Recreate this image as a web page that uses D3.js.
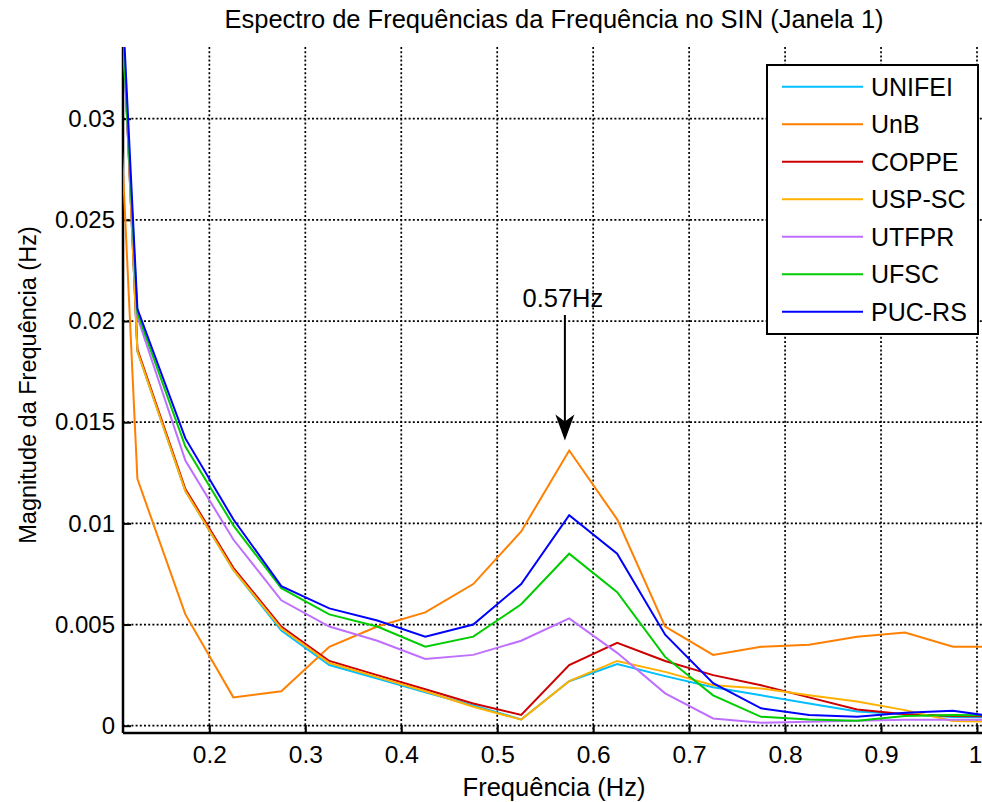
<!DOCTYPE html>
<html>
<head>
<meta charset="utf-8">
<script src="https://cdn.jsdelivr.net/npm/d3@7"></script>
<style>
  html, body { margin: 0; padding: 0; background: #fff; }
  svg { display: block; font-family: "Liberation Sans", Arial, Helvetica, sans-serif; }
</style>
</head>
<body>
<svg id="chart" width="982" height="802"></svg>
<script>
// Frequency bins (Hz)
const freqs = [0.075, 0.125, 0.175, 0.225, 0.275, 0.325, 0.375, 0.425, 0.475, 0.525,
               0.575, 0.625, 0.675, 0.725, 0.775, 0.825, 0.875, 0.925, 0.975, 1.025];

// Spectrum magnitude per measurement site
const unifei = [0.0720, 0.0185, 0.0116, 0.0077, 0.0047, 0.0030, 0.00233, 0.00165, 0.00100, 0.00031,
                0.0022, 0.00305, 0.00245, 0.0019, 0.0015, 0.0011, 0.0007, 0.00056, 0.00043, 0.0004];
const unb    = [0.0629, 0.0122, 0.0055, 0.0014, 0.0017, 0.0039, 0.0049, 0.0056, 0.0070, 0.0096,
                0.0136, 0.0102, 0.0049, 0.0035, 0.0039, 0.0040, 0.0044, 0.0046, 0.0039, 0.0039];
const coppe  = [0.0720, 0.0186, 0.0117, 0.0078, 0.0049, 0.0032, 0.0025, 0.0018, 0.0011, 0.00053,
                0.0030, 0.0041, 0.0032, 0.0025, 0.0020, 0.0014, 0.0008, 0.00056, 0.00048, 0.00045];
const uspsc  = [0.0725, 0.0185, 0.0116, 0.0077, 0.0048, 0.0031, 0.0024, 0.0017, 0.00094, 0.0003,
                0.0022, 0.0032, 0.00266, 0.0020, 0.00184, 0.0015, 0.0012, 0.00077, 0.00023, 0.0002];
const utfpr  = [0.0655, 0.0202, 0.0131, 0.0092, 0.0062, 0.0049, 0.0042, 0.0033, 0.0035, 0.0042,
                0.0053, 0.0036, 0.0016, 0.00036, 0.00015, 0.0002, 0.00025, 0.0003, 0.0003, 0.0003];
const ufsc   = [0.0660, 0.0204, 0.0138, 0.0099, 0.0068, 0.0055, 0.0049, 0.0039, 0.0044, 0.0060,
                0.0085, 0.0066, 0.0034, 0.0015, 0.00044, 0.00031, 0.00025, 0.00048, 0.00053, 0.0005];
const pucrs  = [0.0692, 0.0206, 0.0142, 0.0102, 0.0069, 0.0058, 0.0052, 0.0044, 0.0050, 0.0070,
                0.0104, 0.0085, 0.0045, 0.0021, 0.00086, 0.00053, 0.00044, 0.00064, 0.00074, 0.0004];

const seriesNames  = ["UNIFEI", "UnB", "COPPE", "USP-SC", "UTFPR", "UFSC", "PUC-RS"];
const seriesValues = [unifei, unb, coppe, uspsc, utfpr, ufsc, pucrs];
const seriesColors = ["#00BFFF", "#FF8000", "#CC0000", "#FFB000", "#BF6FFF", "#00CC00", "#0000FF"];

const xTicks = [0.2, 0.3, 0.4, 0.5, 0.6, 0.7, 0.8, 0.9, 1.0];
const xTickLabels = ["0.2", "0.3", "0.4", "0.5", "0.6", "0.7", "0.8", "0.9", "1"];
const yTicks = [0, 0.005, 0.01, 0.015, 0.02, 0.025, 0.03];
const yTickLabels = ["0", "0.005", "0.01", "0.015", "0.02", "0.025", "0.03"];

const peakFreq = 0.57;
const peakLabel = "0.57Hz";

const titleText = "Espectro de Frequências da Frequência no SIN (Janela 1)";
const xLabelText = "Frequência (Hz)";
const yLabelText = "Magnitude da Frequência (Hz)";

// Plot frame
const plot = { left: 123, right: 990, top: 47, bottom: 733 };

const svg = d3.select("#chart");

const x = d3.scaleLinear().domain([0.11, 1.0]).range([123, 977]);
const y = d3.scaleLinear().domain([0, 0.03]).range([725.7, 118.7]);

svg.append("defs").append("clipPath").attr("id", "plotclip")
  .append("rect")
  .attr("x", plot.left).attr("y", plot.top)
  .attr("width", plot.right - plot.left).attr("height", plot.bottom - plot.top);

// Dotted grid
const grid = svg.append("g").attr("stroke", "#000").attr("stroke-width", 1.7)
  .attr("stroke-dasharray", "2,2.2").attr("fill", "none");
xTicks.forEach(t => {
  grid.append("line").attr("x1", x(t)).attr("x2", x(t))
    .attr("y1", plot.top).attr("y2", plot.bottom);
});
yTicks.forEach(t => {
  grid.append("line").attr("x1", plot.left).attr("x2", plot.right)
    .attr("y1", y(t)).attr("y2", y(t));
});

// Axes with inward ticks
const xAxis = d3.axisBottom(x).tickValues(xTicks)
  .tickFormat((d, i) => xTickLabels[i]).tickSizeInner(-8).tickSizeOuter(0).tickPadding(13);
const gx = svg.append("g").attr("transform", `translate(0,${plot.bottom})`).call(xAxis);
gx.select(".domain").remove();
gx.selectAll(".tick line").attr("stroke", "#000").attr("stroke-width", 2);
gx.selectAll(".tick text").attr("font-size", 24.5).attr("fill", "#000");
// keep the last label inside the page edge
gx.selectAll(".tick text").filter((d, i) => i === xTicks.length - 1)
  .attr("text-anchor", "end").attr("dx", 5);

const yAxis = d3.axisLeft(y).tickValues(yTicks)
  .tickFormat((d, i) => yTickLabels[i]).tickSizeInner(-8).tickSizeOuter(0).tickPadding(8);
const gy = svg.append("g").attr("transform", `translate(${plot.left},0)`).call(yAxis);
gy.select(".domain").remove();
gy.selectAll(".tick line").attr("stroke", "#000").attr("stroke-width", 2);
gy.selectAll(".tick text").attr("font-size", 24).attr("fill", "#000");

// Spines
svg.append("line").attr("x1", plot.left).attr("x2", plot.right)
  .attr("y1", plot.bottom).attr("y2", plot.bottom)
  .attr("stroke", "#000").attr("stroke-width", 2.5);
svg.append("line").attr("x1", plot.left).attr("x2", plot.left)
  .attr("y1", plot.top).attr("y2", plot.bottom)
  .attr("stroke", "#000").attr("stroke-width", 2.5);

// Spectrum lines
const line = d3.line().x((d, i) => x(freqs[i])).y(d => y(d));
const lines = svg.append("g").attr("clip-path", "url(#plotclip)");
seriesValues.forEach((vals, k) => {
  lines.append("path").datum(vals)
    .attr("d", line)
    .attr("fill", "none")
    .attr("stroke", seriesColors[k])
    .attr("stroke-width", 2)
    .attr("stroke-linejoin", "miter");
});

// Peak annotation
const ax = x(peakFreq) + 0.5;
const peakIdx = freqs.indexOf(0.575);
const tipY = y(unb[peakIdx]) - 10;
svg.append("line").attr("x1", ax).attr("x2", ax)
  .attr("y1", 315).attr("y2", tipY - 6)
  .attr("stroke", "#000").attr("stroke-width", 2);
svg.append("path")
  .attr("d", `M${ax},${tipY} L${ax - 9.5},${tipY - 26} L${ax},${tipY - 19} L${ax + 9.5},${tipY - 26} Z`)
  .attr("fill", "#000");
svg.append("text").attr("x", ax - 2).attr("y", 307)
  .attr("text-anchor", "middle").attr("font-size", 25.5).attr("fill", "#000")
  .text(peakLabel);

// Legend
const lg = svg.append("g");
lg.append("rect").attr("x", 767).attr("y", 65).attr("width", 211).attr("height", 269)
  .attr("fill", "#fff").attr("stroke", "#000").attr("stroke-width", 2);
seriesNames.forEach((name, k) => {
  const ry = 86.7 + k * 37.5;
  lg.append("line").attr("x1", 782).attr("x2", 863).attr("y1", ry).attr("y2", ry)
    .attr("stroke", seriesColors[k]).attr("stroke-width", 2);
  lg.append("text").attr("x", 871).attr("y", ry).attr("dy", "0.36em")
    .attr("font-size", 25).attr("fill", "#000").text(name);
});

// Titles
svg.append("text").attr("x", 554).attr("y", 28).attr("text-anchor", "middle")
  .attr("font-size", 25.5).attr("fill", "#000").text(titleText);
svg.append("text").attr("x", 554).attr("y", 796).attr("text-anchor", "middle")
  .attr("font-size", 25.5).attr("fill", "#000").text(xLabelText);
svg.append("text").attr("transform", "translate(36,385) rotate(-90)")
  .attr("text-anchor", "middle").attr("font-size", 23.5).attr("fill", "#000").text(yLabelText);
</script>
</body>
</html>
